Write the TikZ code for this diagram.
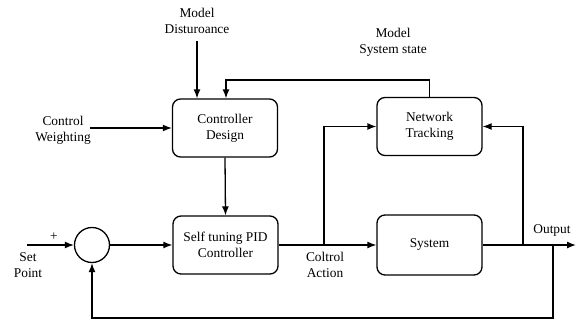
\documentclass[tikz,border=0pt]{standalone}
\usepackage{fontspec}
\setmainfont{Liberation Serif}
\usetikzlibrary{arrows.meta,calc}
\begin{document}
\begin{tikzpicture}[x=1pt,y=-1pt,
  font=\fontsize{13.4}{16}\selectfont,
  line width=1.3pt,
  blk/.style={draw,rounded corners=8pt,minimum width=105pt,minimum height=58pt,align=center,inner sep=0pt},
  lbl/.style={align=center,inner sep=0pt},
  arr/.style={-{Latex[length=9pt,width=7pt]}}]
\useasboundingbox (0,0) rectangle (577,324);
\node[blk] (cd) at (225,128) {Controller\\Design};
\node[blk] (nt) at (429.5,126.5) {Network\\Tracking};
\node[blk] (pid) at (225.5,245) {Self tuning PID\\Controller};
\node[blk,minimum height=60pt] (sys) at (429.5,245) {System};
\node[draw,circle,minimum size=35pt,inner sep=0pt] (sum) at (92,245) {};

\node[lbl] (md) at (197,21) {Model\\Disturoance};
\node[lbl] (ms) at (393,42) {Model\\System state};
\node[lbl] (cw) at (63,130.5) {Control\\Weighting};
\node[lbl] (plus) at (54,237) {+};
\node[lbl] (sp) at (28,265) {Set\\Point};
\node[lbl] (ca) at (325,265) {Coltrol\\Action};
\node[lbl] (ol) at (552,230) {Output};

\coordinate (spin) at (27,245);
\coordinate (mdin) at (197,41);
\coordinate (cwin) at (90,128);
\coordinate (br1) at (324,245);
\coordinate (br2) at (523,245);
\coordinate (fb) at (553,245);
\coordinate (out) at (576,245);

\draw[arr] (spin) -- (sum.west);
\draw[arr] (sum.east) -- (pid.west);
\draw[arr] (cd.south) -- (pid.north);
\draw[arr] (pid.east) -- (sys.west);
\draw[arr] (sys.east) -- (out);
\draw[arr] (br1) |- (nt.west);
\draw[arr] (br2) |- (nt.east);
\draw[arr] (fb) -- ++(0,73) -| (sum.south);
\draw[arr] (nt.north) -- ++(0,-17) -| ($(cd.north)+(1,0)$);
\draw[arr] (mdin) -- (mdin |- cd.north);
\draw[arr] (cwin) -- (cwin -| cd.west);
\end{tikzpicture}
\end{document}
